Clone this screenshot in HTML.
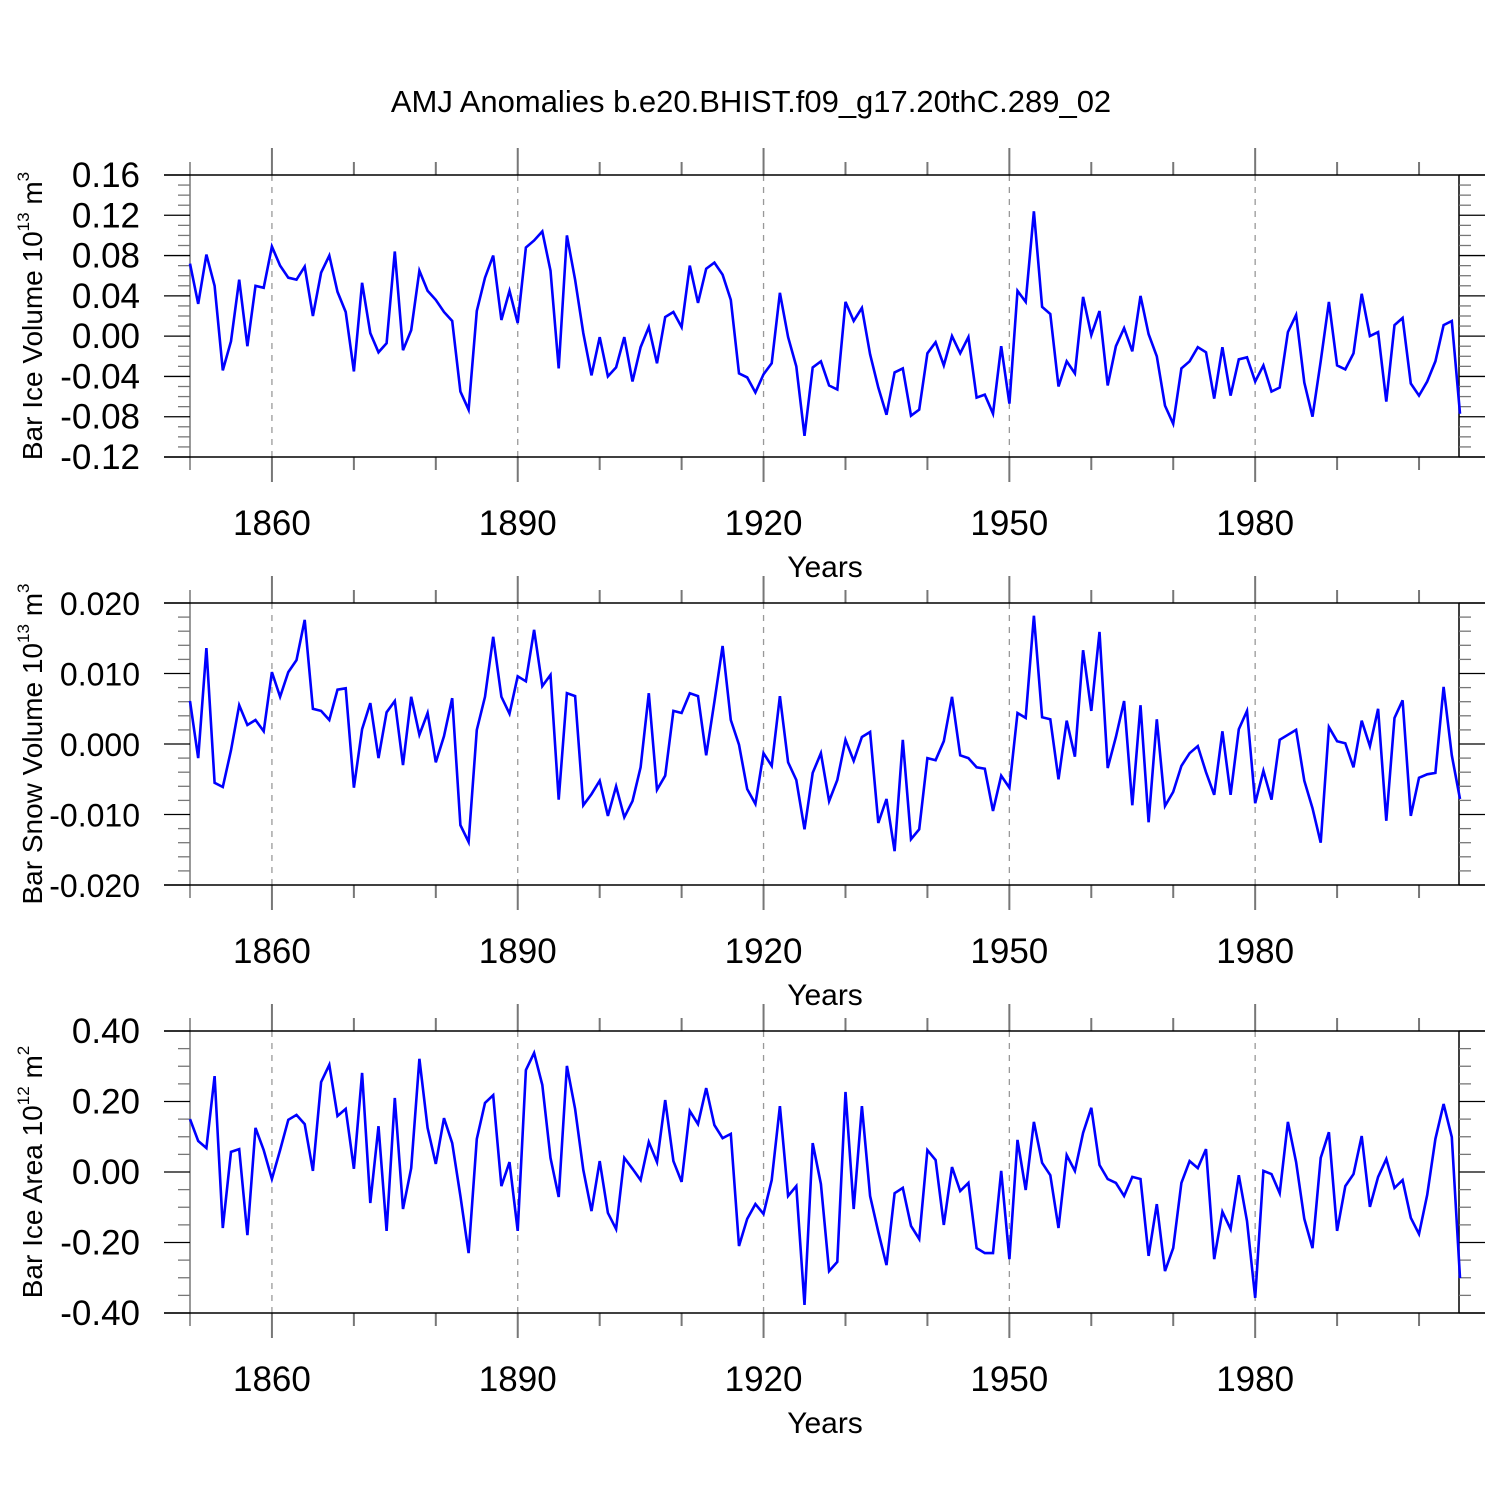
<!DOCTYPE html>
<html><head><meta charset="utf-8"><style>
html,body{margin:0;padding:0;background:#fff;}
svg{display:block;font-family:"Liberation Sans",sans-serif;}
</style></head><body>
<svg id="chart" width="1500" height="1500" viewBox="0 0 1500 1500" xmlns="http://www.w3.org/2000/svg">
<rect width="1500" height="1500" fill="#fff"/>
<text x="751" y="112" font-size="31" text-anchor="middle">AMJ Anomalies b.e20.BHIST.f09_g17.20thC.289_02</text>
</svg>
<script>
const startYear = 1850;
const iceVolume = [0.072,0.032,0.081,0.050,-0.034,-0.005,0.056,-0.010,0.050,0.048,
0.089,0.070,0.058,0.056,0.069,0.020,0.063,0.080,0.044,0.024,
-0.035,0.053,0.003,-0.016,-0.007,0.084,-0.014,0.006,0.065,0.045,
0.036,0.024,0.015,-0.055,-0.073,0.025,0.058,0.080,0.016,0.045,
0.013,0.088,0.095,0.104,0.065,-0.032,0.100,0.056,0.003,-0.039,
-0.001,-0.040,-0.031,-0.001,-0.045,-0.011,0.009,-0.027,0.019,0.024,
0.009,0.070,0.033,0.067,0.073,0.061,0.036,-0.037,-0.041,-0.056,
-0.038,-0.027,0.043,-0.001,-0.030,-0.099,-0.031,-0.025,-0.049,-0.053,
0.034,0.015,0.028,-0.018,-0.051,-0.078,-0.036,-0.032,-0.079,-0.073,
-0.017,-0.006,-0.029,0.000,-0.017,-0.001,-0.061,-0.058,-0.077,-0.010,
-0.067,0.045,0.034,0.124,0.029,0.022,-0.050,-0.025,-0.037,0.039,
0.001,0.025,-0.049,-0.010,0.008,-0.015,0.040,0.002,-0.020,-0.069,
-0.087,-0.032,-0.025,-0.011,-0.016,-0.062,-0.011,-0.059,-0.023,-0.021,
-0.045,-0.029,-0.055,-0.051,0.004,0.021,-0.046,-0.080,-0.025,0.034,
-0.029,-0.033,-0.017,0.042,0.000,0.004,-0.065,0.011,0.018,-0.047,
-0.059,-0.045,-0.025,0.011,0.015,-0.077];
const snowVolume = [0.0061,-0.0020,0.0136,-0.0055,-0.0061,-0.0009,0.0055,0.0027,0.0034,0.0018,
0.0102,0.0067,0.0102,0.0119,0.0176,0.0050,0.0047,0.0034,0.0077,0.0079,
-0.0062,0.0021,0.0058,-0.0020,0.0045,0.0061,-0.0030,0.0067,0.0013,0.0044,
-0.0026,0.0011,0.0065,-0.0115,-0.0139,0.0020,0.0067,0.0152,0.0067,0.0043,
0.0096,0.0089,0.0162,0.0082,0.0098,-0.0079,0.0072,0.0068,-0.0087,-0.0071,
-0.0052,-0.0102,-0.0060,-0.0104,-0.0081,-0.0033,0.0072,-0.0065,-0.0045,0.0047,
0.0044,0.0072,0.0068,-0.0016,0.0060,0.0139,0.0034,-0.0001,-0.0064,-0.0085,
-0.0013,-0.0031,0.0068,-0.0026,-0.0051,-0.0121,-0.0041,-0.0013,-0.0081,-0.0051,
0.0006,-0.0024,0.0010,0.0017,-0.0112,-0.0078,-0.0152,0.0006,-0.0135,-0.0121,
-0.0020,-0.0023,0.0004,0.0067,-0.0016,-0.0020,-0.0033,-0.0035,-0.0095,-0.0045,
-0.0062,0.0044,0.0037,0.0182,0.0038,0.0035,-0.0050,0.0033,-0.0018,0.0133,
0.0047,0.0159,-0.0034,0.0010,0.0061,-0.0087,0.0055,-0.0111,0.0035,-0.0088,
-0.0068,-0.0031,-0.0013,-0.0003,-0.0040,-0.0072,0.0018,-0.0072,0.0021,0.0047,
-0.0084,-0.0038,-0.0079,0.0006,0.0013,0.0020,-0.0052,-0.0091,-0.0140,0.0024,
0.0004,0.0001,-0.0033,0.0033,-0.0003,0.0050,-0.0109,0.0037,0.0062,-0.0102,
-0.0048,-0.0043,-0.0041,0.0081,-0.0016,-0.0078];
const iceArea = [0.150,0.088,0.068,0.272,-0.159,0.057,0.065,-0.179,0.125,0.062,
-0.020,0.062,0.148,0.162,0.136,0.003,0.255,0.304,0.159,0.179,
0.009,0.281,-0.088,0.130,-0.167,0.210,-0.105,0.011,0.321,0.125,
0.023,0.153,0.082,-0.068,-0.230,0.094,0.196,0.218,-0.040,0.028,
-0.167,0.289,0.338,0.247,0.040,-0.071,0.301,0.179,0.006,-0.111,
0.031,-0.116,-0.162,0.040,0.009,-0.023,0.085,0.028,0.204,0.031,
-0.028,0.173,0.136,0.238,0.133,0.096,0.108,-0.210,-0.133,-0.091,
-0.119,-0.023,0.187,-0.068,-0.040,-0.377,0.082,-0.034,-0.281,-0.255,
0.227,-0.105,0.187,-0.068,-0.170,-0.264,-0.060,-0.045,-0.153,-0.190,
0.062,0.034,-0.150,0.014,-0.054,-0.031,-0.216,-0.230,-0.230,0.003,
-0.247,0.091,-0.051,0.142,0.026,-0.009,-0.159,0.048,0.003,0.111,
0.182,0.020,-0.020,-0.031,-0.068,-0.014,-0.020,-0.238,-0.091,-0.281,
-0.216,-0.031,0.031,0.011,0.065,-0.247,-0.113,-0.162,-0.009,-0.139,
-0.357,0.003,-0.006,-0.060,0.142,0.028,-0.133,-0.216,0.040,0.113,
-0.167,-0.040,-0.006,0.102,-0.099,-0.014,0.037,-0.045,-0.023,-0.130,
-0.176,-0.065,0.094,0.193,0.099,-0.301];
const xLabelYears = [1860,1890,1920,1950,1980];
const ticks1 = ["0.16","0.12","0.08","0.04","0.00","-0.04","-0.08","-0.12"];
const ticks2 = ["0.020","0.010","0.000","-0.010","-0.020"];
const ticks3 = ["0.40","0.20","0.00","-0.20","-0.40"];

const NS="http://www.w3.org/2000/svg";
const svg=document.getElementById('chart');
const X0=190, X1=1460, YMIN=1850, YMAX=2005;
function xs(yr){return X0+(yr-YMIN)*(X1-X0)/(YMAX-YMIN);}
function mk(tag,attrs,parent){const e=document.createElementNS(NS,tag);for(const k in attrs)e.setAttribute(k,attrs[k]);(parent||svg).appendChild(e);return e;}

const panels=[
 {top:175,vals:iceVolume,ticks:ticks1,vmax:0.16,vmin:-0.12,minor:0.01,fs:35,name:'ice-volume',title:['Bar Ice Volume 10','13',' m','3']},
 {top:603,vals:snowVolume,ticks:ticks2,vmax:0.02,vmin:-0.02,minor:0.002,fs:32,name:'snow-volume',title:['Bar Snow Volume 10','13',' m','3']},
 {top:1031,vals:iceArea,ticks:ticks3,vmax:0.4,vmin:-0.4,minor:0.05,fs:35,name:'ice-area',title:['Bar Ice Area 10','12',' m','2']}
];
const H=282;
panels.forEach(p=>{
 const g=mk('g',{});
 
 
 const bot=p.top+H;
 const ys=v=>p.top+(p.vmax-v)*H/(p.vmax-p.vmin);
 xLabelYears.forEach(yr=>{
  const l=mk('line',{x1:xs(yr),x2:xs(yr),y1:p.top,y2:bot,stroke:'#999','stroke-width':1.3,'stroke-dasharray':'6,6'},g);
  
  
 });
 for(let yr=1850;yr<=2000;yr+=10){
  const major=xLabelYears.includes(yr);
  const t=mk('line',{x1:xs(yr),x2:xs(yr),y1:p.top-(major?27:13),y2:p.top,stroke:'#777','stroke-width':2},g);
  
  
  const b=mk('line',{x1:xs(yr),x2:xs(yr),y1:bot,y2:bot+(major?25:13),stroke:'#777','stroke-width':2},g);
  
  
 }
 mk('line',{x1:X0,x2:X0,y1:p.top-13,y2:bot+13,stroke:'#999','stroke-width':2},g);
 mk('line',{x1:X1-1,x2:X1-1,y1:p.top,y2:bot,stroke:'#000','stroke-width':1.5},g);
 const n=Math.round((p.vmax-p.vmin)/p.minor);
 const per=Math.round(n/(p.ticks.length-1));
 for(let i=0;i<=n;i++){
  const y=p.top+i*H/n;const major=i%per===0;
  mk('line',{x1:X0-(major?26:12),x2:X0,y1:y,y2:y,stroke:major?'#000':'#777','stroke-width':1.3},g);
  mk('line',{x1:X1-1,x2:X1+(major?25:11),y1:y,y2:y,stroke:major?'#000':'#777','stroke-width':1.3},g);
 }
 mk('line',{x1:X0-26,x2:X1+25,y1:p.top,y2:p.top,stroke:'#000','stroke-width':1.5},g);
 mk('line',{x1:X0-26,x2:X1+25,y1:bot,y2:bot,stroke:'#000','stroke-width':1.5},g);
 p.ticks.forEach((lab,i)=>{
  const t=mk('text',{x:140,y:p.top+i*H/(p.ticks.length-1)+12,'font-size':p.fs,'text-anchor':'end'},g);
  
  
  t.textContent=lab;
 });
 xLabelYears.forEach(yr=>{
  const t=mk('text',{x:xs(yr),y:bot+78,'font-size':35,'text-anchor':'middle'},g);
  
  
  t.textContent=yr;
 });
 const xt=mk('text',{x:825,y:bot+120,'font-size':30,'text-anchor':'middle'},g);
 
 
 xt.textContent='Years';
 const cy=p.top+H/2;
 const yt=mk('text',{x:0,y:0,'font-size':28,'text-anchor':'middle',transform:`translate(42,${cy}) rotate(-90)`},g);
 
 
 const a=mk('tspan',{},yt);a.textContent=p.title[0];
 const b=mk('tspan',{dy:-13,'font-size':17},yt);b.textContent=p.title[1];
 const c=mk('tspan',{dy:13},yt);c.textContent=p.title[2];
 const d=mk('tspan',{dy:-13,'font-size':17},yt);d.textContent=p.title[3];
 const pts=p.vals.map((v,i)=>xs(startYear+i).toFixed(1)+','+ys(v).toFixed(1)).join(' ');
 const pl=mk('polyline',{points:pts,fill:'none',stroke:'#0000ff','stroke-width':2.6,'stroke-linejoin':'miter'},g);
 
 
});
</script>
</body></html>
